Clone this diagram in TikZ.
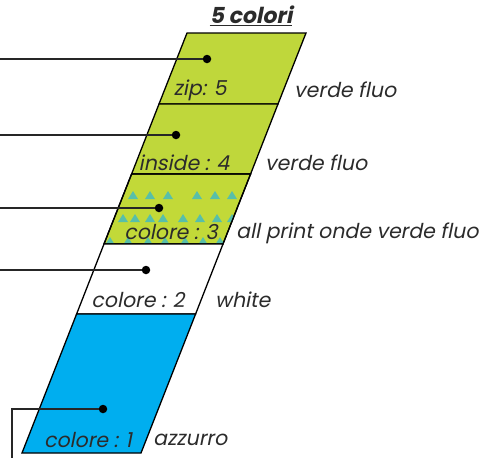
\documentclass[tikz,border=0pt]{standalone}
\usepackage{fontspec}
\setmainfont[FakeSlant=0.2]{Poppins}
\usepackage{tikz}
\usetikzlibrary{positioning}
\definecolor{fluo}{HTML}{BFD73B}
\definecolor{azzurro}{HTML}{00AEEF}
\definecolor{onda}{HTML}{2CB5D8}
\definecolor{scritta}{HTML}{2B2B2B}
\tikzset{
  band/.style={draw=black, line width=1.3pt},
  dot/.style={circle, fill=black, inner sep=0pt, minimum size=8.5pt},
  leader/.style={line width=2.5pt, draw=black!85},
  inlabel/.style={font=\fontsize{20.5}{23}\selectfont, text=scritta, inner sep=0pt},
  outlabel/.style={font=\fontsize{20.5}{23}\selectfont, text=scritta, anchor=west, inner sep=0pt},
}

\begin{document}
\begin{tikzpicture}[x=1pt, y=-1pt]
\useasboundingbox (0,0) rectangle (496,458);
% bands
\filldraw[band, fill=fluo] (187,33) -- (306,33) -- (278,104) -- (159,104) -- cycle;
\filldraw[band, fill=fluo] (159,104) -- (278,104) -- (250.6,174) -- (131.6,174) -- cycle;
\filldraw[band, fill=fluo!95!yellow] (131.6,174) -- (250.6,174) -- (223,244) -- (104,244) -- cycle;
\begin{scope}
\clip (131.6,174) -- (250.6,174) -- (223,244) -- (104,244) -- cycle;
\foreach \x in {133,150,168,197,215,232}
  \fill[onda, opacity=0.7] (\x-5,199) -- (\x+5,199) -- (\x,191) -- cycle;
\foreach \x in {123,135,150,163,183,200,217,232}
  \fill[onda, opacity=0.7] (\x-5,222) -- (\x+5,222) -- (\x,214) -- cycle;
\foreach \x in {110,128,148,165,185,203,220}
  \fill[onda, opacity=0.7] (\x-5,245) -- (\x+5,245) -- (\x,237) -- cycle;
\end{scope}
\draw[band] (131.6,174) -- (250.6,174) -- (223,244) -- (104,244) -- cycle;
\filldraw[band, fill=white] (104,244) -- (223,244) -- (195.6,314) -- (76.6,314) -- cycle;
\filldraw[band, fill=azzurro] (76.6,314) -- (195.6,314) -- (141,453) -- (22,453) -- cycle;

% title
\node[font=\bfseries\fontsize{22}{24}\selectfont, text=scritta] (titolo) at (251,16) {\underline{5 colori}};

% dots and leaders
\node[dot] (zipdot) at (207,59) {};
\node[dot] (insidedot) at (176,135) {};
\node[dot] (tredot) at (159,208) {};
\node[dot] (duedot) at (146,270) {};
\node[dot] (unodot) at (103,409) {};
\coordinate (zipend) at (0,59);
\coordinate (insideend) at (0,135);
\coordinate (treend) at (0,208);
\coordinate (dueend) at (0,270);
\coordinate (unoend) at (12,458);
\draw[leader] (zipend) -- (zipdot);
\draw[leader] (insideend) -- (insidedot);
\draw[leader] (treend) -- (tredot);
\draw[leader] (dueend) -- (duedot);
\draw[leader] (unoend) |- (unodot);

% labels
\node[inlabel] (zip) at (200,90) {zip: 5};
\node[inlabel] (inside) at (184,163) {inside : 4};
\node[inlabel] (tre) at (171,232) {colore : 3};
\node[inlabel] (due) at (138,300) {colore : 2};
\node[inlabel] (uno) at (88,440) {colore : 1};
\node[outlabel] (zipcol) at (294,90) {verde fluo};
\node[outlabel] (insidecol) at (265,163) {verde fluo};
\node[outlabel] (trecol) at (236,233) {all print onde verde fluo};
\node[outlabel] (duecol) at (215,300) {white};
\node[outlabel] (unocol) at (153,440) {azzurro};
\end{tikzpicture}
\end{document}
